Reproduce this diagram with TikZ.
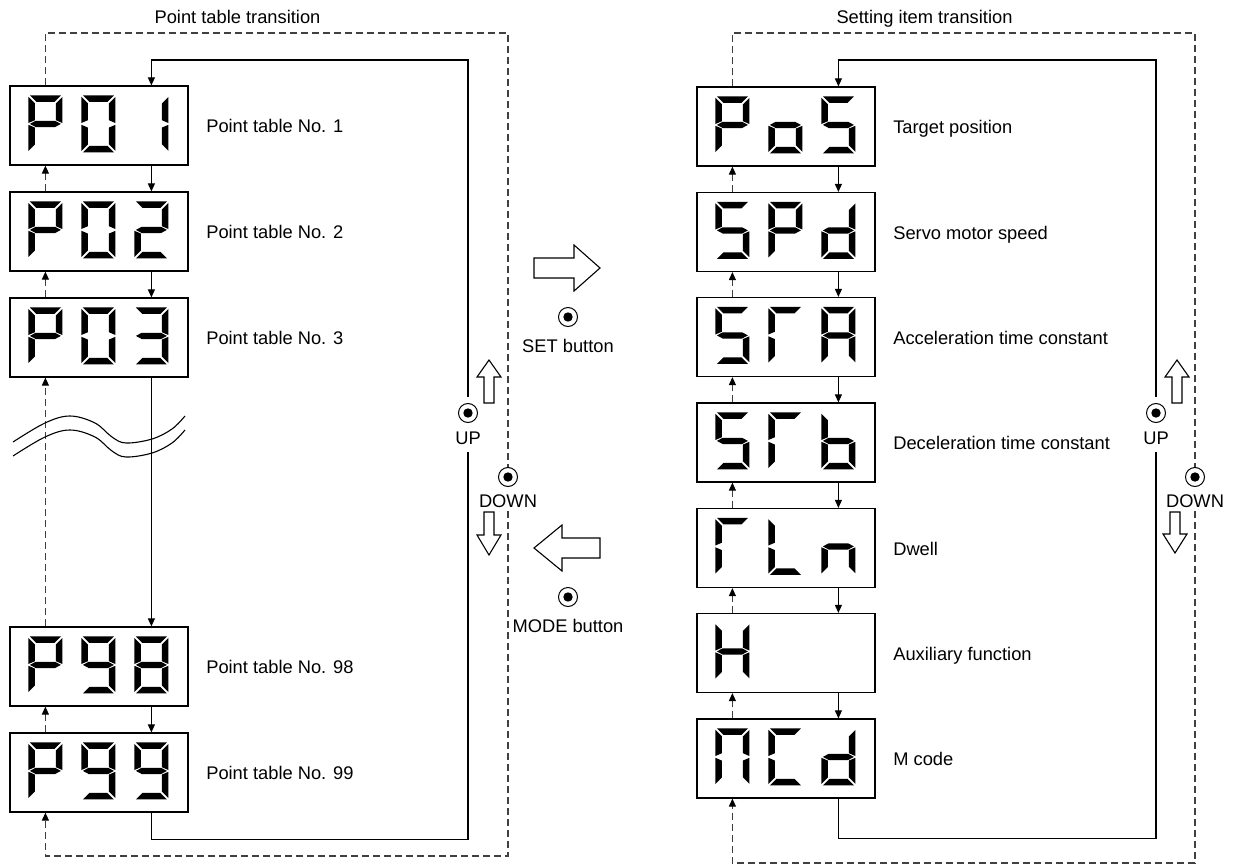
\documentclass[tikz,border=0pt]{standalone}
\usepackage{fontspec}
\setmainfont{Liberation Sans}
\usetikzlibrary{arrows.meta}
\newcommand\lblfont{\fontsize{18.3pt}{22pt}\selectfont}
% seven-segment pieces, local frame 34 x 57 (y downwards)
\newcommand\dsega{\fill (1.5,0) -- (32.5,0) -- (26,6.5) -- (8,6.5) -- cycle;}
\newcommand\dsegd{\fill (1.5,57) -- (32.5,57) -- (26,50.5) -- (8,50.5) -- cycle;}
\newcommand\dsegf{\fill (0,1.5) -- (6.5,8) -- (6.5,24.8) -- (0,27.6) -- cycle;}
\newcommand\dsege{\fill (0,29.4) -- (6.5,32.2) -- (6.5,49) -- (0,55.5) -- cycle;}
\newcommand\dsegb{\fill (34,1.5) -- (27.5,8) -- (27.5,24.8) -- (34,27.6) -- cycle;}
\newcommand\dsegc{\fill (34,29.4) -- (27.5,32.2) -- (27.5,49) -- (34,55.5) -- cycle;}
\newcommand\dsegg{\fill (1.5,28.5) -- (7.3,25.4) -- (26.7,25.4) -- (32.5,28.5) -- (26.7,31.6) -- (7.3,31.6) -- cycle;}
\newcommand\dgt[3]{\begin{scope}[shift={(#1,#2)}]\foreach \s in {#3}{\csname dseg\s\endcsname}\end{scope}}
\newcommand\showdisp[4]{\begin{scope}[shift={(#1.north west)}]\dgt{19}{10}{#2}\dgt{72}{10}{#3}\dgt{125}{10}{#4}\end{scope}}
\tikzset{
  disp/.style={draw=black, line width=1.2pt, fill=white, minimum width=178pt, minimum height=79pt, inner sep=0pt},
  lbl/.style={anchor=base west, inner sep=0pt},
  txt/.style={anchor=base, inner sep=0pt},
  line/.style={line width=1.1pt, draw=black},
  flow/.style={line, -{Triangle[length=8pt,width=7pt]}},
  back/.style={line width=1.1pt, draw=black!75, dash pattern=on 7pt off 4pt},
  backarrow/.style={back, -{Triangle[length=8pt,width=7pt,fill=black,color=black]}},
  btn/.style={circle, draw, line width=1pt, minimum size=19pt, inner sep=0pt, fill=white,
    path picture={\fill[black] (path picture bounding box.center) circle[radius=4.7pt];}},
  hollow/.style={draw, line width=1.1pt, fill=white, line join=miter},
}
\begin{document}
\begin{tikzpicture}[x=1pt, y=-1pt, font=\lblfont]
\useasboundingbox (0,0) rectangle (1235,867);
% titles
\node[txt] (t1) at (237.5,24) {Point table transition};
\node[txt] (t2) at (924.5,24) {Setting item transition};
% left displays
\node[disp] (p01) at (99,125.5) {};
\node[disp] (p02) at (99,231.5) {};
\node[disp] (p03) at (99,337.5) {};
\node[disp] (p98) at (99,666.5) {};
\node[disp] (p99) at (99,772.5) {};
\showdisp{p01}{a,b,e,f,g}{a,b,c,d,e,f}{b,c}
\showdisp{p02}{a,b,e,f,g}{a,b,c,d,e,f}{a,b,d,e,g}
\showdisp{p03}{a,b,e,f,g}{a,b,c,d,e,f}{a,b,c,d,g}
\showdisp{p98}{a,b,e,f,g}{a,b,c,d,f,g}{a,b,c,d,e,f,g}
\showdisp{p99}{a,b,e,f,g}{a,b,c,d,f,g}{a,b,c,d,f,g}
\node[lbl] (l01) at ([xshift=17.5pt,yshift=-7pt]p01.east) {Point table No. 1};
\node[lbl] (l02) at ([xshift=17.5pt,yshift=-7pt]p02.east) {Point table No. 2};
\node[lbl] (l03) at ([xshift=17.5pt,yshift=-7pt]p03.east) {Point table No. 3};
\node[lbl] (l98) at ([xshift=17.5pt,yshift=-7pt]p98.east) {Point table No. 98};
\node[lbl] (l99) at ([xshift=17.5pt,yshift=-7pt]p99.east) {Point table No. 99};
% right displays
\node[disp] (pos) at (786,126.5) {};
\node[disp] (spd) at (786,232) {};
\node[disp] (sra) at (786,337) {};
\node[disp] (srb) at (786,442.5) {};
\node[disp] (rln) at (786,548) {};
\node[disp] (hh)  at (786,653) {};
\node[disp] (mcd) at (786,758.5) {};
\showdisp{pos}{a,b,e,f,g}{c,d,e,g}{a,c,d,f,g}
\showdisp{spd}{a,c,d,f,g}{a,b,e,f,g}{b,c,d,e,g}
\showdisp{sra}{a,c,d,f,g}{a,e,f}{a,b,c,e,f,g}
\showdisp{srb}{a,c,d,f,g}{a,e,f}{c,d,e,f,g}
\showdisp{rln}{a,e,f}{d,e,f}{c,e,g}
\showdisp{hh}{b,c,e,f,g}{}{}
\showdisp{mcd}{a,b,c,e,f}{a,d,e,f}{b,c,d,e,g}
\node[lbl] (lpos) at ([xshift=17.5pt,yshift=-7pt]pos.east) {Target position};
\node[lbl] (lspd) at ([xshift=17.5pt,yshift=-7pt]spd.east) {Servo motor speed};
\node[lbl] (lsra) at ([xshift=17.5pt,yshift=-7pt]sra.east) {Acceleration time constant};
\node[lbl] (lsrb) at ([xshift=17.5pt,yshift=-7pt]srb.east) {Deceleration time constant};
\node[lbl] (lrln) at ([xshift=17.5pt,yshift=-7pt]rln.east) {Dwell};
\node[lbl] (lhh)  at ([xshift=17.5pt,yshift=-7pt]hh.east) {Auxiliary function};
\node[lbl] (lmcd) at ([xshift=17.5pt,yshift=-7pt]mcd.east) {M code};
% left chain arrows
\foreach \u/\l in {p01/p02, p02/p03, p03/p98, p98/p99} {
  \draw[flow] ([xshift=142pt]\u.south west) -- ([xshift=142pt]\l.north west);
  \draw[backarrow] ([xshift=36pt]\l.north west) -- ([xshift=36pt]\u.south west);
}
% right chain arrows
\foreach \u/\l in {pos/spd, spd/sra, sra/srb, srb/rln, rln/hh, hh/mcd} {
  \draw[flow] ([xshift=142pt]\u.south west) -- ([xshift=142pt]\l.north west);
  \draw[backarrow] ([xshift=36pt]\l.north west) -- ([xshift=36pt]\u.south west);
}
% break mark
\draw[line] plot[smooth, tension=0.6] coordinates {(13,442) (45,423) (70,416) (95,423) (112,437) (126,443) (152,439) (172,429) (185,416)};
\draw[line] plot[smooth, tension=0.6] coordinates {(13,456) (45,437) (70,430) (95,437) (112,451) (126,457) (152,453) (172,443) (185,430)};
% left buttons
\node[btn] (upL) at (468,413) {};
\node[txt] (upLt) at (468,444) {UP};
\node[btn] (dnL) at (508,477) {};
\node[txt] (dnLt) at (508,507) {DOWN};
\coordinate (LupT) at (468,397);
\coordinate (LupB) at (468,452);
\coordinate (LdnT) at (508,467);
\coordinate (LdnB) at (508,511);
\coordinate (LsolTop) at (468,60);
\coordinate (LdashTop) at (508,33);
\coordinate (LdashBot) at (508,856);
\draw[line] ([xshift=142pt]p99.south west) -- ++(0,27) -| (LupB);
\draw[flow] (LupT) -- (LsolTop) -| ([xshift=142pt]p01.north west);
\draw[back] ([xshift=36pt]p01.north west) |- (LdashTop) -- (LdnT);
\draw[backarrow] (LdnB) -- (LdashBot) -| ([xshift=36pt]p99.south west);
% right buttons
\node[btn] (upR) at (1156,413) {};
\node[txt] (upRt) at (1156,444) {UP};
\node[btn] (dnR) at (1195,477) {};
\node[txt] (dnRt) at (1195,507) {DOWN};
\coordinate (RupT) at (1156,397);
\coordinate (RupB) at (1156,452);
\coordinate (RdnT) at (1195,467);
\coordinate (RdnB) at (1195,511);
\coordinate (RsolTop) at (1156,60);
\coordinate (RdashTop) at (1195,33);
\coordinate (RdashBot) at (1195,863);
\draw[line] ([xshift=142pt]mcd.south west) -- ++(0,40) -| (RupB);
\draw[flow] (RupT) -- (RsolTop) -| ([xshift=142pt]pos.north west);
\draw[back] ([xshift=36pt]pos.north west) |- (RdashTop) -- (RdnT);
\draw[backarrow] (RdnB) -- (RdashBot) -| ([xshift=36pt]mcd.south west);
% hollow up/down arrows
\draw[hollow] (489,360) -- (501,377) -- (494,377) -- (494,403) -- (484,403) -- (484,377) -- (477,377) -- cycle;
\draw[hollow] (484,512) -- (494,512) -- (494,535) -- (501,535) -- (489,555) -- (477,535) -- (484,535) -- cycle;
\draw[hollow] (1177,360) -- (1189,377) -- (1182,377) -- (1182,403) -- (1172,403) -- (1172,377) -- (1165,377) -- cycle;
\draw[hollow] (1170,512) -- (1180,512) -- (1180,534) -- (1187,534) -- (1175,553) -- (1163,534) -- (1170,534) -- cycle;
% SET / MODE
\draw[hollow] (534,258) -- (574,258) -- (574,245) -- (600,268) -- (574,291) -- (574,278) -- (534,278) -- cycle;
\node[btn] (setb) at (568,317) {};
\node[txt] (sett) at (568,352) {SET button};
\draw[hollow] (600,538) -- (562,538) -- (562,525) -- (534,548) -- (562,571) -- (562,558) -- (600,558) -- cycle;
\node[btn] (modeb) at (568,597) {};
\node[txt] (modet) at (568,632) {MODE button};
\end{tikzpicture}
\end{document}
